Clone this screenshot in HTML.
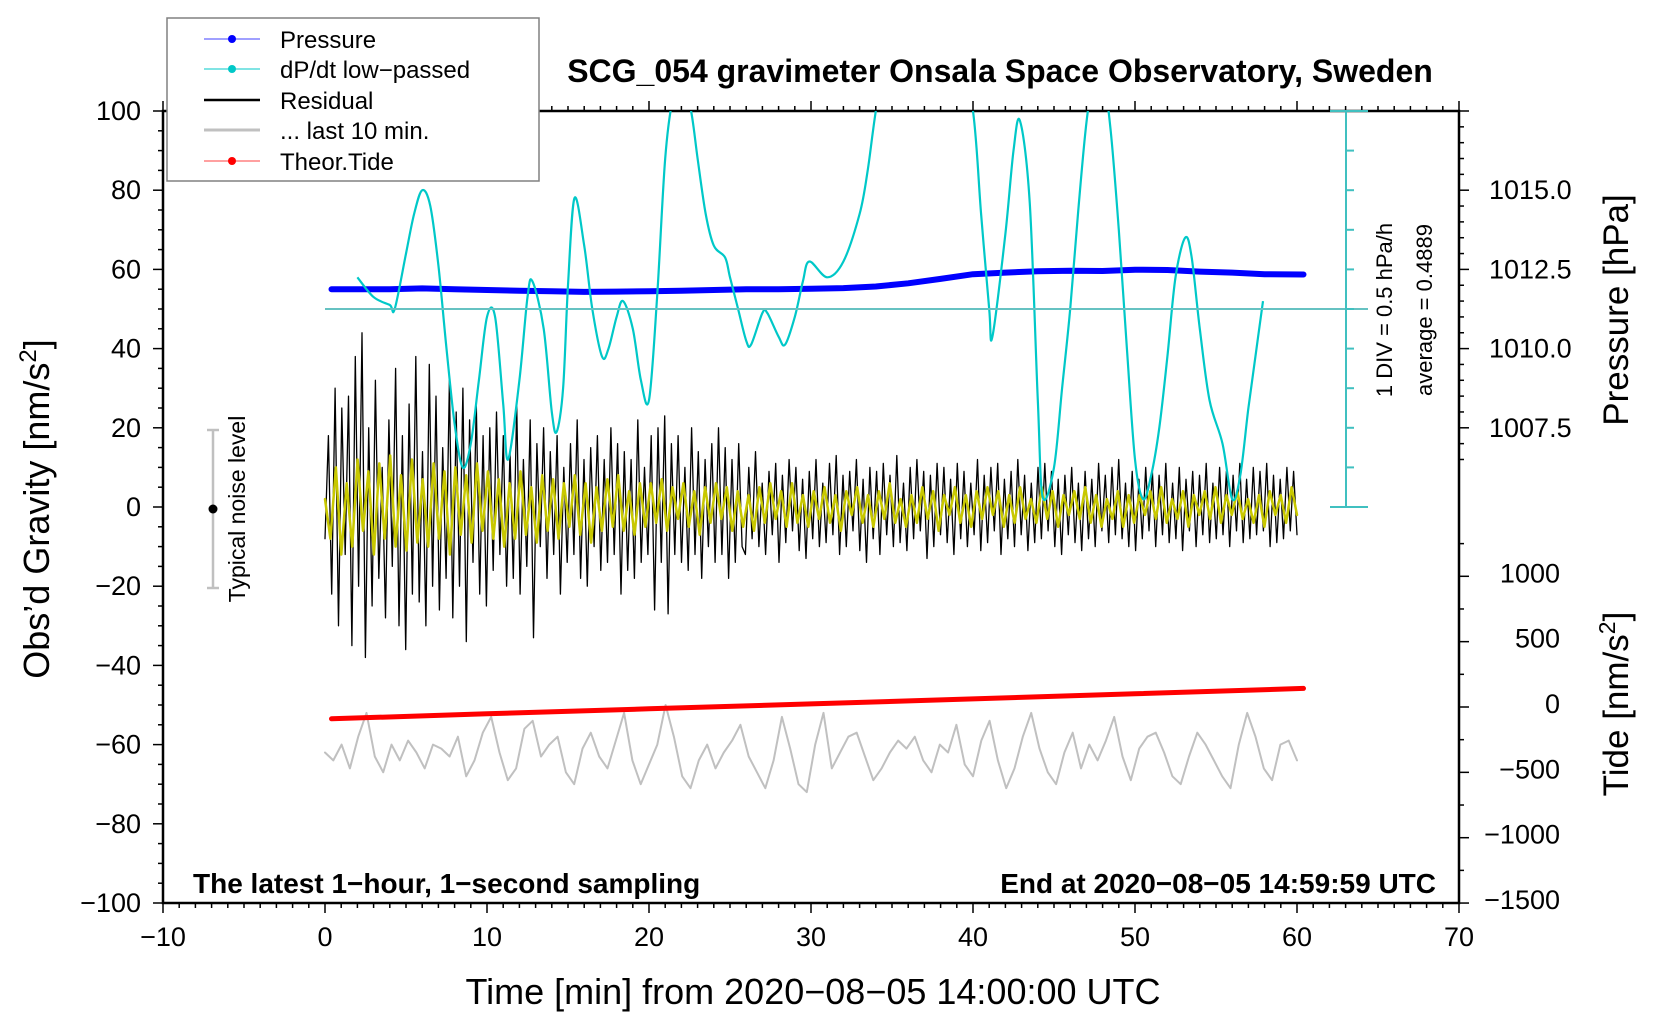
<!DOCTYPE html>
<html><head><meta charset="utf-8"><style>
html,body{margin:0;padding:0;background:#fff;}
svg{display:block;font-family:"Liberation Sans",sans-serif;}
</style></head><body>
<svg id="chart" width="1660" height="1020" viewBox="0 0 1660 1020" xmlns="http://www.w3.org/2000/svg">
<defs><clipPath id="plotclip"><rect x="163" y="111" width="1296" height="792"/></clipPath></defs>
<rect width="1660" height="1020" fill="#fff"/>
<g id="axes"></g>
<g id="series" clip-path="url(#plotclip)"></g>
<g id="overlay"></g>
</svg>
<script>
// ---- data ----
const xTicks = [-10,0,10,20,30,40,50,60,70];
const yTicks = [100,80,60,40,20,0,-20,-40,-60,-80,-100];
const pressureTicks = [1015.0,1012.5,1010.0,1007.5];
const tideTicks = [1000,500,0,-500,-1000,-1500];
const pressureTimes = [0.4,2,4,6,8,10,12,14,16,18,20,22,24,26,28,30,32,34,36,38,40,42,44,46,48,50,52,54,56,58,60.4];
const pressureValues = [1011.875,1011.875,1011.875,1011.9,1011.875,1011.85,1011.825,1011.81,1011.79,1011.80,1011.81,1011.825,1011.85,1011.875,1011.875,1011.89,1011.91,1011.96,1012.06,1012.2,1012.35,1012.4,1012.44,1012.46,1012.45,1012.49,1012.48,1012.43,1012.4,1012.35,1012.34];
const dpTimes = [2,3,4,4.3,5,5.5,6,6.5,7,7.5,8,8.5,9,9.5,10,10.5,11,11.3,12,12.5,12.8,13.5,14,14.3,14.7,15,15.4,16,16.5,17.1,17.5,18,18.4,19,19.5,20,20.5,21,21.5,22,22.6,23,23.5,24,24.7,25,25.5,26,26.3,27,27.3,28,28.4,29,29.5,29.9,31,32,33,33.5,34,35,37,39,40,40.5,41,41.2,42,42.5,42.9,43.5,44,44.3,45,45.5,46,46.5,47,47.5,48,48.5,49,49.5,50,50.5,51,51.5,52,52.5,53.1,53.5,54,54.6,55.4,56,56.5,57,57.5,57.9];
const dpValues = [58,53,51,50,64,74,80,76,61,40,21,10,16,32,48,48,26,12,32,53,57,45,24,19,30,56,78,66,50,38,40,48,52,45,32,27,53,88,104,110,100,88,74,66,63,58,50,42,41,49,49,43,41,48,57,62,58,62,74,85,100,125,130,120,100,74,50,43,69,90,97.5,77,27,2.5,10,30,50,75,97,110,110,95,70,40,12,2,8,20,38,58,68,63,45,27,16,2,8,25,40,52];
const residualValues = [-8,18,-22,30,-30,25,-12,28,-35,38,-20,44,-38,20,-25,32,-18,10,-28,22,-15,35,-30,18,-36,26,-22,38,-24,14,-30,36,-20,28,-26,15,-18,32,-28,24,-20,30,-34,22,-14,26,-22,18,-25,20,
-16,24,-12,18,-20,14,-18,26,-22,12,-15,22,-33,16,-10,20,-18,14,-12,18,-22,10,-14,16,-12,22,-18,12,-20,15,-10,18,-16,12,-14,20,-12,16,-22,14,-16,12,-18,22,-14,10,-12,18,-26,20,-14,23,-27,16,-12,18,-14,10,-16,20,-12,14,-18,12,-10,16,-14,20,-12,15,-18,12,-14,16,-10,
-12,10,-8,14,-10,6,-12,9,-7,11,-14,8,-9,12,-6,10,-11,7,-13,9,-8,12,-10,6,-9,11,-7,13,-12,8,-10,9,-6,12,-11,7,-14,10,-8,9,-12,11,-7,8,-10,13,-9,6,-11,10,-8,12,-6,9,-13,8,-10,11,-7,10,
-9,7,-12,11,-8,9,-10,6,-7,12,-11,8,-9,10,-6,11,-12,7,-8,9,-10,12,-7,8,-11,6,-9,10,-8,11,-6,9,-10,7,-12,8,-7,10,-9,6,-11,9,-8,7,-10,11,-6,8,-9,10,-7,12,-8,6,-10,9,-11,7,-8,10,
-6,9,-10,8,-7,11,-9,6,-8,10,-11,7,-6,9,-10,8,-7,11,-9,6,-8,10,-7,9,-10,8,-6,11,-9,7,-8,10,-7,9,-6,11,-10,8,-9,7,-8,10,-6,9,-7];
const filteredValues = [2,-8,10,-12,6,-10,12,-6,9,-12,11,-8,13,-10,8,-11,12,-9,7,-10,11,-8,9,-12,10,-7,8,-9,11,-6,
9,-8,7,-10,6,-8,9,-7,5,-9,8,-6,7,-8,6,-5,8,-7,6,-9,5,-6,7,-5,8,-6,4,-7,6,-5,
6,-4,7,-6,5,-3,6,-5,4,-7,5,-4,6,-3,5,-6,4,-5,3,-6,5,-4,6,-3,4,-5,6,-4,3,-5,
4,-3,5,-4,3,-6,4,-2,5,-4,3,-5,4,-3,6,-4,2,-5,3,-4,5,-3,4,-6,3,-2,5,-4,3,-5,
4,-3,5,-2,4,-5,3,-4,5,-3,2,-4,5,-3,4,-5,3,-2,4,-3,5,-4,3,-5,2,-3,4,-5,3,-4,
3,-2,4,-3,5,-4,2,-3,4,-5,3,-2,4,-3,5,-4,3,-2,4,-3,2,-4,3,-5,4,-2,3,-4,5,-2];
const last10Values = [-62,-64,-60,-66,-58,-52,-63,-67,-60,-64,-59,-62,-66,-60,-61,-63,-58,-68,-64,-57,-53,-62,-69,-66,-56,-54,-63,-60,-58,-67,-70,-61,-57,-63,-66,-59,-52,-64,-70,-65,-60,-50,-58,-68,-71,-64,-60,-66,-62,-59,-55,-63,-67,-71,-64,-53,-61,-70,-72,-60,-52,-66,-62,-58,-57,-63,-69,-66,-62,-59,-61,-58,-64,-67,-60,-62,-55,-65,-68,-59,-54,-64,-71,-66,-58,-52,-61,-67,-70,-62,-57,-66,-60,-64,-59,-53,-63,-69,-61,-58,-57,-62,-68,-70,-63,-57,-60,-64,-68,-71,-60,-52,-58,-66,-69,-60,-59,-64];
const tideTimes = [0.4,10,20,30,40,50,60.4];
const tideValues = [-90,-52,-14,24,62,101,142];

// ---- scales ----
const X0=163, X1=1459, Y0=111, Y1=903;
function xs(t){ return X0 + (t+10)*(X1-X0)/80; }
function ys(g){ return Y0 + (100-g)*(Y1-Y0)/200; }
function yp(p){ return ys(80 + (p-1015)*8); }
function yt(v){ return 707 - v*0.1307; }
const NS="http://www.w3.org/2000/svg";
function mk(tag, attrs, parent){ const e=document.createElementNS(NS,tag); for(const k in attrs) e.setAttribute(k,attrs[k]); parent.appendChild(e); return e; }
const axes=document.getElementById('axes'), series=document.getElementById('series'), overlay=document.getElementById('overlay');

// ---- series ----
function poly(pts, stroke, w, name){
  const e=mk('polyline',{points:pts.map(p=>p[0].toFixed(1)+','+p[1].toFixed(1)).join(' '),fill:'none',stroke:stroke,'stroke-width':w,'stroke-linejoin':'round','stroke-linecap':'round'},series);
  
  
  return e;
}
function smooth(pts, stroke, w, name){
  let d='M'+pts[0][0].toFixed(1)+','+pts[0][1].toFixed(1);
  for(let i=0;i<pts.length-1;i++){
    const p0=pts[Math.max(0,i-1)], p1=pts[i], p2=pts[i+1], p3=pts[Math.min(pts.length-1,i+2)];
    const c1=[p1[0]+(p2[0]-p0[0])/6, p1[1]+(p2[1]-p0[1])/6];
    const c2=[p2[0]-(p3[0]-p1[0])/6, p2[1]-(p3[1]-p1[1])/6];
    d+=' C'+c1[0].toFixed(1)+','+c1[1].toFixed(1)+' '+c2[0].toFixed(1)+','+c2[1].toFixed(1)+' '+p2[0].toFixed(1)+','+p2[1].toFixed(1);
  }
  const e=mk('path',{d:d,fill:'none',stroke:stroke,'stroke-width':w,'stroke-linejoin':'round'},series);
  
  
}
const bl=mk('line',{x1:xs(0),y1:ys(50),x2:1368,y2:ys(50),stroke:'#66c2c2','stroke-width':2},overlay);


poly(last10Values.map((v,i)=>[xs(i*60/(last10Values.length-1)), ys(v)]), '#c0c0c0', 2, 'last-10-min-line');
poly(residualValues.map((v,i)=>[xs(i*60/(residualValues.length-1)), ys(v)]), '#000', 1.3, 'residual-line');
poly(filteredValues.map((v,i)=>[xs(i*60/(filteredValues.length-1)), ys(v)]), '#c8c800', 2.5, 'filtered-residual-line');
poly(tideTimes.map((t,i)=>[xs(t), yt(tideValues[i])]), '#ff0000', 5, 'theor-tide-line');
poly(pressureTimes.map((t,i)=>[xs(t), yp(pressureValues[i])]), '#0000ff', 6, 'pressure-line');
smooth(dpTimes.map((t,i)=>[xs(t), ys(dpValues[i])]), '#00c8c8', 2.2, 'dpdt-line');

// ---- frame ----
const fr=mk('rect',{x:X0,y:Y0,width:X1-X0,height:Y1-Y0,fill:'none',stroke:'#000','stroke-width':2.5},axes);


for(let t=-10;t<=70;t++){
  const major = t%10===0, len = major?10:5;
  mk('line',{x1:xs(t),y1:Y1,x2:xs(t),y2:Y1+len,stroke:'#000','stroke-width':1.5},axes);
  mk('line',{x1:xs(t),y1:Y0,x2:xs(t),y2:Y0-len,stroke:'#000','stroke-width':1.5},axes);
}
xTicks.forEach(t=>{
  const e=mk('text',{x:xs(t),y:946,'text-anchor':'middle','font-size':27},axes);
  e.textContent=(t<0?'\u2212'+(-t):t);
  
  
});
for(let g=-100;g<=100;g+=5){
  const major=g%20===0, len=major?10:5;
  mk('line',{x1:X0,y1:ys(g),x2:X0-len,y2:ys(g),stroke:'#000','stroke-width':1.5},axes);
}
yTicks.forEach(g=>{
  const e=mk('text',{x:141,y:ys(g)+9,'text-anchor':'end','font-size':27},axes);
  e.textContent=(g<0?'\u2212'+(-g):g);
  
  
});
for(let p=1006.5;p<=1017.5;p+=0.5){
  const y=yp(p); if(y<Y0||y>ys(0)+2) continue;
  const major=Math.abs(p*10%25)<0.01;
  mk('line',{x1:X1,y1:y,x2:X1+(major?10:5),y2:y,stroke:'#000','stroke-width':1.5},axes);
}
pressureTicks.forEach(p=>{
  const e=mk('text',{x:1489,y:yp(p)+9,'font-size':27},axes);
  e.textContent=p.toFixed(1);
  
  
});
for(let v=-1500;v<=1250;v+=250){
  const y=yt(v); if(y>Y1+1||y<ys(-5)) continue;
  const major=v%500===0;
  mk('line',{x1:X1,y1:y,x2:X1+(major?10:5),y2:y,stroke:'#000','stroke-width':1.5},axes);
}
tideTicks.forEach(v=>{
  const e=mk('text',{x:1560,y:yt(v)+6,'text-anchor':'end','font-size':27},axes);
  e.textContent=(v<0?'\u2212'+(-v):v);
  
  
});
const dx=1346;
mk('line',{x1:dx,y1:ys(100),x2:dx,y2:ys(0),stroke:'#40c0c0','stroke-width':2},overlay);
for(let g=0;g<=100;g+=10){
  const end = (g===0||g===100);
  mk('line',{x1:end?1330:dx,y1:ys(g),x2:end?1368:dx+8,y2:ys(g),stroke:'#40c0c0','stroke-width':2},overlay);
}
</script>
<div style="position:absolute;left:0;top:0;width:1660px;height:1020px;pointer-events:none">
<svg width="1660" height="1020" viewBox="0 0 1660 1020" style="font-family:'Liberation Sans',sans-serif">
<text x="1000" y="82" text-anchor="middle" font-size="32" font-weight="bold">SCG_054 gravimeter Onsala Space Observatory, Sweden</text>
<g>
<rect x="167" y="18" width="372" height="163" fill="#fff" stroke="#808080" stroke-width="1.5"/>
<line x1="204" y1="39" x2="260" y2="39" stroke="#4040ff" stroke-width="1"/><circle cx="232" cy="39" r="4" fill="#0000ff"/>
<text x="280" y="48" font-size="24">Pressure</text>
<line x1="204" y1="69" x2="260" y2="69" stroke="#00c8c8" stroke-width="1"/><circle cx="232" cy="69" r="4" fill="#00c8c8"/>
<text x="280" y="78" font-size="24">dP/dt low−passed</text>
<line x1="204" y1="100" x2="260" y2="100" stroke="#000" stroke-width="2.5"/>
<text x="280" y="109" font-size="24">Residual</text>
<line x1="204" y1="130" x2="260" y2="130" stroke="#c0c0c0" stroke-width="3"/>
<text x="280" y="139" font-size="24">... last 10 min.</text>
<line x1="204" y1="161" x2="260" y2="161" stroke="#ff4040" stroke-width="1"/><circle cx="232" cy="161" r="4" fill="#ff0000"/>
<text x="280" y="170" font-size="24">Theor.Tide</text>
</g>
<g>
<line x1="213" y1="430" x2="213" y2="588" stroke="#c0c0c0" stroke-width="2.5"/>
<line x1="207" y1="430" x2="219" y2="430" stroke="#c0c0c0" stroke-width="2.5"/>
<line x1="207" y1="588" x2="219" y2="588" stroke="#c0c0c0" stroke-width="2.5"/>
<circle cx="213" cy="509" r="4.5" fill="#000"/>
</g>
<text transform="translate(245,509) rotate(-90)" text-anchor="middle" font-size="23">Typical noise level</text>
<text transform="translate(1392,310) rotate(-90)" text-anchor="middle" font-size="22">1 DIV = 0.5 hPa/h</text>
<text transform="translate(1432,310) rotate(-90)" text-anchor="middle" font-size="22">average = 0.4889</text>
<text transform="translate(49,509) rotate(-90)" text-anchor="middle" font-size="36">Obs’d Gravity [nm/s<tspan font-size="24" dy="-13">2</tspan><tspan dy="13">]</tspan></text>
<text transform="translate(1628,310) rotate(-90)" text-anchor="middle" font-size="35">Pressure [hPa]</text>
<text transform="translate(1628,704) rotate(-90)" text-anchor="middle" font-size="35">Tide [nm/s<tspan font-size="23" dy="-13">2</tspan><tspan dy="13">]</tspan></text>
<text x="813" y="1004" text-anchor="middle" font-size="36">Time [min] from 2020−08−05 14:00:00 UTC</text>
<text x="193" y="893" font-size="28" font-weight="bold">The latest 1−hour, 1−second sampling</text>
<text x="1436" y="893" text-anchor="end" font-size="28" font-weight="bold">End at 2020−08−05 14:59:59 UTC</text>
</svg>
</div>
</body></html>
